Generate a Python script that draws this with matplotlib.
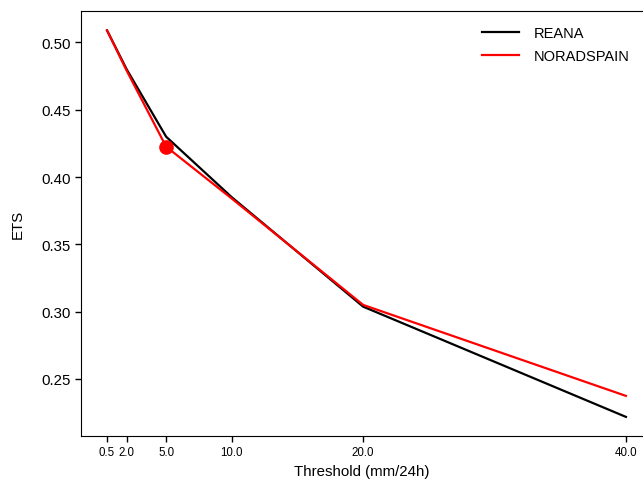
import matplotlib
matplotlib.use("Agg")
import matplotlib.pyplot as plt

plt.rcParams['font.family'] = ['Liberation Sans', 'DejaVu Sans']

thresholds = [0.5, 2.0, 5.0, 10.0, 20.0, 40.0]
tick_labels = ["0.5", "2.0", "5.0", "10.0", "20.0", "40.0"]
reana = [0.509, 0.480, 0.430, 0.385, 0.3037, 0.2218]
noradspain = [0.509, 0.479, 0.4226, 0.384, 0.305, 0.2374]
highlight_x = 5.0
highlight_y = 0.4226

fig = plt.figure(figsize=(6.43, 4.81), dpi=100)
ax = fig.add_axes([81 / 643, 44 / 481, 1 - 81 / 643, (437 - 12) / 481])

ax.plot(thresholds, reana, color="black", lw=1.6, label="REANA")
ax.plot(thresholds, noradspain, color="red", lw=1.6, label="NORADSPAIN")
ax.plot([highlight_x], [highlight_y], "o", color="red", markersize=9.5)

ax.set_xlim(-1.48, 41.3)
ax.set_ylim(0.2076, 0.5234)
ax.set_xticks(thresholds)
ax.set_xticklabels(tick_labels, fontsize=8.3)
ax.set_yticks([0.25, 0.30, 0.35, 0.40, 0.45, 0.50])
ax.set_yticklabels(["0.25", "0.30", "0.35", "0.40", "0.45", "0.50"], fontsize=10.8)
ax.tick_params(direction="out", length=4, width=1)
ax.spines["right"].set_visible(False)

ax.set_xlabel("Threshold (mm/24h)", fontsize=10.8, labelpad=4)
ax.set_ylabel("ETS", fontsize=10.8, labelpad=12)

ax.legend(loc="upper right", frameon=False, fontsize=10.5,
          handlelength=2.6, handletextpad=1.0, labelspacing=0.6,
          bbox_to_anchor=(1.0, 0.995))

fig.savefig("out.png", dpi=100)
